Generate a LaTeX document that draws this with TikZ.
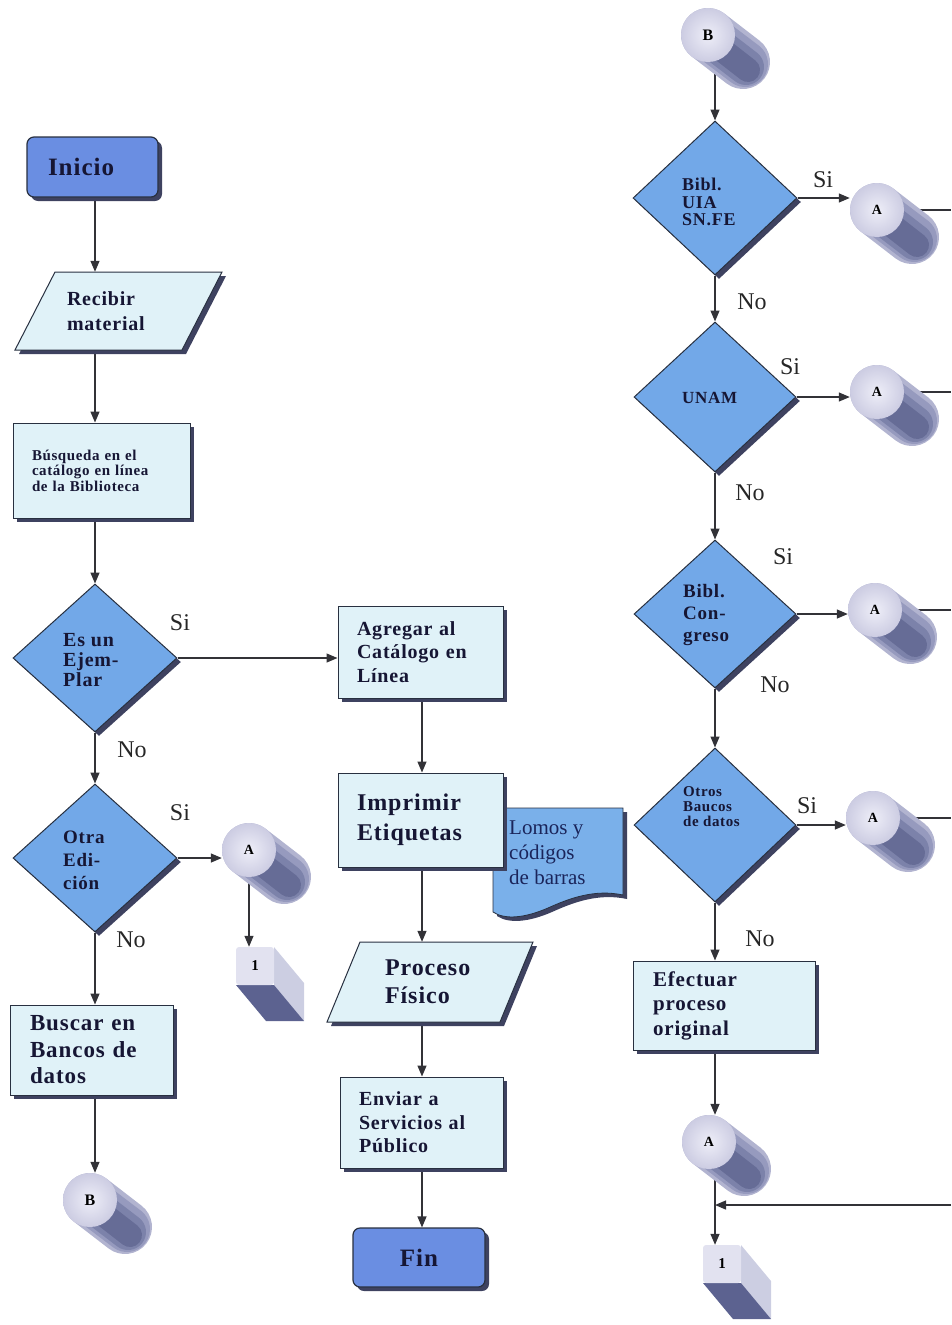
\documentclass[tikz,border=0pt]{standalone}
\usepackage{fontspec}
\setmainfont{Liberation Serif}
\newfontfamily\lsfam[LetterSpace=4]{Liberation Serif}
\usetikzlibrary{arrows.meta,shapes.geometric,shadows,backgrounds,calc}
\definecolor{termc}{RGB}{106,142,226}
\definecolor{decc}{RGB}{114,168,232}
\definecolor{procc}{RGB}{224,242,248}
\definecolor{docc}{RGB}{122,176,234}
\definecolor{shadc}{RGB}{62,66,96}
\definecolor{edgec}{RGB}{40,48,64}
\definecolor{txtc}{RGB}{22,22,52}
\definecolor{doctxt}{RGB}{26,36,90}
\definecolor{linec}{RGB}{50,50,55}
\definecolor{cyltopin}{RGB}{238,238,248}
\definecolor{cyltopout}{RGB}{204,204,226}
\definecolor{cylb1}{RGB}{178,180,208}
\definecolor{cylb2}{RGB}{150,154,190}
\definecolor{cylb3}{RGB}{124,130,170}
\definecolor{cylb4}{RGB}{102,108,150}
\definecolor{cubefront}{RGB}{226,226,240}
\definecolor{cubeside}{RGB}{204,206,226}
\definecolor{cubebot}{RGB}{92,98,144}
\newcommand\fs[2]{\fontsize{#1}{#2}\selectfont}
\newcommand\bx[2]{\lsfam\bfseries\fontsize{#1}{#2}\selectfont}
\newcommand\cyl[4]{%
  \draw[line width=54pt, line cap=round, draw=cylb1] (#2,#3) -- ++(35,27);
  \draw[line width=46pt, line cap=round, draw=cylb2] (#2+4,#3+4) -- ++(33,25);
  \draw[line width=36pt, line cap=round, draw=cylb3] (#2+8,#3+9) -- ++(30,23);
  \draw[line width=24pt, line cap=round, draw=cylb4] (#2+13,#3+14) -- ++(27,21);
  \node[cyltop] (#1) at (#2,#3) {#4};}
\newcommand\cubeone[3]{%
  \fill[cubeside] (#2+19,#3-19) -- ++(30,36) -- ++(0,38) -- (#2+19,#3+19) -- cycle;
  \fill[cubebot] (#2-19,#3+19) -- (#2+19,#3+19) -- ++(30,36) -- ++(-38,0) -- cycle;
  \node[cubef] (#1) at (#2,#3) {1};}
\begin{document}
\begin{tikzpicture}[x=1pt,y=-1pt,
  shadowed/.style={general shadow={fill=shadc, shadow xshift=4pt, shadow yshift=-4pt}},
  term/.style={rectangle, rounded corners=7pt, draw=edgec, line width=1.2pt, fill=termc, shadowed, font=\bx{25}{28}, text=txtc},
  proc/.style={rectangle, draw=edgec, line width=1pt, fill=procc, shadowed, text=txtc, align=left, inner xsep=19pt},
  procpath/.style={draw=edgec, line width=1pt, fill=procc, shadowed},
  docpath/.style={draw=edgec, line width=0.8pt, fill=docc, shadowed},
  ptext/.style={rectangle, align=left, text=txtc},
  dec/.style={diamond, draw=edgec, line width=1pt, fill=decc, shadowed, inner sep=0pt},
  dtext/.style={anchor=west, align=left, text=txtc, inner sep=0pt},
  lbl/.style={font=\fs{24}{26}, text=black!85, inner sep=0pt},
  arr/.style={draw=linec, line width=1.3pt, -{Triangle[length=11pt,width=9pt]}},
  ln/.style={draw=linec, line width=1.3pt},
  cyltop/.style={circle, minimum size=54pt, inner sep=0pt, inner color=cyltopin, outer color=cyltopout, font=\bfseries\fs{14}{14}, text=black},
  cubef/.style={rectangle, minimum size=38pt, inner sep=0pt, fill=cubefront, rounded corners=3pt, font=\bfseries\fs{15}{15}, text=black},
]
\useasboundingbox (0,0) rectangle (951,1325);
\coordinate (R) at (951,0);
\coordinate (colL) at (95,0);
\coordinate (colM) at (422,0);

% ---------- left column ----------
\node[term, minimum width=131pt, minimum height=60pt, text width=89pt, inner xsep=21pt, align=left] (inicio) at (92.5,167) {Inicio};
\path[procpath] (55,272) -- (222,272) -- (182,350) -- (15,350) -- cycle;
\node[ptext, font=\bx{20}{25}, text width=103pt, inner xsep=52pt, minimum height=78pt] (recv) at (118.5,311) {Recibir\\material};
\node[proc, minimum width=177pt, minimum height=95pt, text width=139pt, font=\bx{15}{15.5}] (busq) at (101.5,470.5) {Búsqueda en el\\catálogo en línea\\de la Biblioteca};
\node[dec, minimum width=164pt, minimum height=148pt] (d1) at (95,658) {};
\node[dtext, font=\bx{20}{20}] (d1t) at (63,660) {Es un\\Ejem-\\Plar};
\node[dec, minimum width=164pt, minimum height=148pt] (d2) at (95,858) {};
\node[dtext, font=\bx{19}{23}] (d2t) at (63,860) {Otra\\Edi-\\ción};
\node[proc, minimum width=163pt, minimum height=90pt, text width=123pt, inner xsep=20pt, font=\bx{23}{26.5}] (buscar) at (91.5,1050) {Buscar en\\Bancos de\\datos};
\cyl{a1}{249}{850}{A}
\cubeone{c1}{255}{966}
\cyl{bL}{90}{1200}{\fs{16}{16}B}

% ---------- middle column ----------
\node[proc, minimum width=165pt, minimum height=92pt, text width=127pt, font=\bx{20}{23.5}] (agreg) at (420.5,652) {Agregar al\\Catálogo en\\Línea};
\path[docpath] (493,808) -- (623,808) -- (623,895) .. controls (595,889) and (570,898) .. (548,908) .. controls (525,918) and (505,920) .. (493,912) -- cycle;
\node[anchor=west, align=left, font=\fs{21}{25}, text=doctxt, inner sep=0pt] (doc) at (509,853) {Lomos y\\códigos\\de barras};
\node[proc, minimum width=165pt, minimum height=94pt, text width=127pt, font=\bx{24}{30}] (impr) at (420.5,820) {Imprimir\\Etiquetas};
\path[procpath] (360,942) -- (533,942) -- (500,1022) -- (327,1022) -- cycle;
\node[ptext, font=\bx{24}{28}, minimum height=80pt, text width=90pt, inner xsep=58pt] (proc) at (430,982) {Proceso\\Físico};
\node[proc, minimum width=163pt, minimum height=91pt, text width=125pt, font=\bx{20}{23.5}] (enviar) at (421.5,1122.5) {Enviar a\\Servicios al\\Público};
\node[term, minimum width=132pt, minimum height=59pt] (fin) at (419,1257.5) {Fin};

% ---------- right column ----------
\cyl{b2}{708}{35}{\fs{16}{16}B}
\node[dec, minimum width=164pt, minimum height=154pt] (d3) at (715,198) {};
\node[dtext, font=\bx{18}{17.5}] (d3t) at (682,202) {Bibl.\\UIA\\SN.FE};
\cyl{a2}{877}{210}{A}
\node[dec, minimum width=162pt, minimum height=150pt] (d4) at (715,397) {};
\node[dtext, font=\bx{17}{17}] (d4t) at (682,398) {UNAM};
\cyl{a3}{877}{392}{A}
\node[dec, minimum width=162pt, minimum height=148pt] (d5) at (715,614) {};
\node[dtext, font=\bx{19}{22}] (d5t) at (683,615) {Bibl.\\Con-\\greso};
\cyl{a4}{875}{610}{A}
\node[dec, minimum width=162pt, minimum height=154pt] (d6) at (715,825) {};
\node[dtext, font=\bx{15}{15}] (d6t) at (683,807) {Otros\\Baucos\\de datos};
\cyl{a5}{873}{818}{A}
\node[proc, minimum width=182pt, minimum height=89pt, text width=142pt, inner xsep=20pt, font=\bx{21}{24.5}] (efect) at (724,1005.5) {Efectuar\\proceso\\original};
\cyl{a6}{709}{1142}{A}
\cubeone{c2}{722}{1264}
\coordinate (e6) at (951,1205);

% ---------- labels ----------
\node[lbl] (s1) at (180,623) {Si};
\node[lbl] (n1) at (132,750) {No};
\node[lbl] (s2) at (180,813) {Si};
\node[lbl] (n2) at (131,940) {No};
\node[lbl] (s3) at (823,180) {Si};
\node[lbl] (n3) at (752,302) {No};
\node[lbl] (s4) at (790,367) {Si};
\node[lbl] (n4) at (750,493) {No};
\node[lbl] (s5) at (783,557) {Si};
\node[lbl] (n5) at (775,685) {No};
\node[lbl] (s6) at (807,806) {Si};
\node[lbl] (n6) at (760,939) {No};

% ---------- connectors ----------
\begin{scope}[on background layer]
\draw[arr] (colL |- inicio.south) -- (colL |- recv.north);
\draw[arr] (colL |- recv.south) -- (colL |- busq.north);
\draw[arr] (colL |- busq.south) -- (d1.north);
\draw[arr] (d1.east) -- (d1.east -| agreg.west);
\draw[arr] (d1.south) -- (d2.north);
\draw[arr] (d2.east) -- (d2.east -| a1.west);
\draw[arr] (a1.south) -- (a1.south |- c1.north);
\draw[arr] (d2.south) -- (colL |- buscar.north);
\draw[arr] (colL |- buscar.south) -- (colL |- bL.north);
\draw[arr] (colM |- agreg.south) -- (colM |- impr.north);
\draw[arr] (colM |- impr.south) -- (colM |- proc.north);
\draw[arr] (colM |- proc.south) -- (colM |- enviar.north);
\draw[arr] (colM |- enviar.south) -- (colM |- fin.north);
\draw[arr] (b2.south -| d3.north) -- (d3.north);
\draw[arr] (d3.east) -- (d3.east -| a2.west);
\draw[ln] (a2.center) -- (a2.center -| R);
\draw[arr] (d3.south) -- (d4.north);
\draw[arr] (d4.east) -- (d4.east -| a3.west);
\draw[ln] (a3.center) -- (a3.center -| R);
\draw[arr] (d4.south) -- (d5.north);
\draw[arr] (d5.east) -- (d5.east -| a4.west);
\draw[ln] (a4.center) -- (a4.center -| R);
\draw[arr] (d5.south) -- (d6.north);
\draw[arr] (d6.east) -- (d6.east -| a5.west);
\draw[ln] (a5.center) -- (a5.center -| R);
\draw[arr] (d6.south) -- (d6.south |- efect.north);
\draw[arr] (d6.south |- efect.south) -- (d6.south |- a6.north);
\draw[arr] (d6.south |- a6.south) -- (d6.south |- c2.north);
\draw[arr] (e6) -- (e6 -| d6.south);
\end{scope}
\end{tikzpicture}
\end{document}
